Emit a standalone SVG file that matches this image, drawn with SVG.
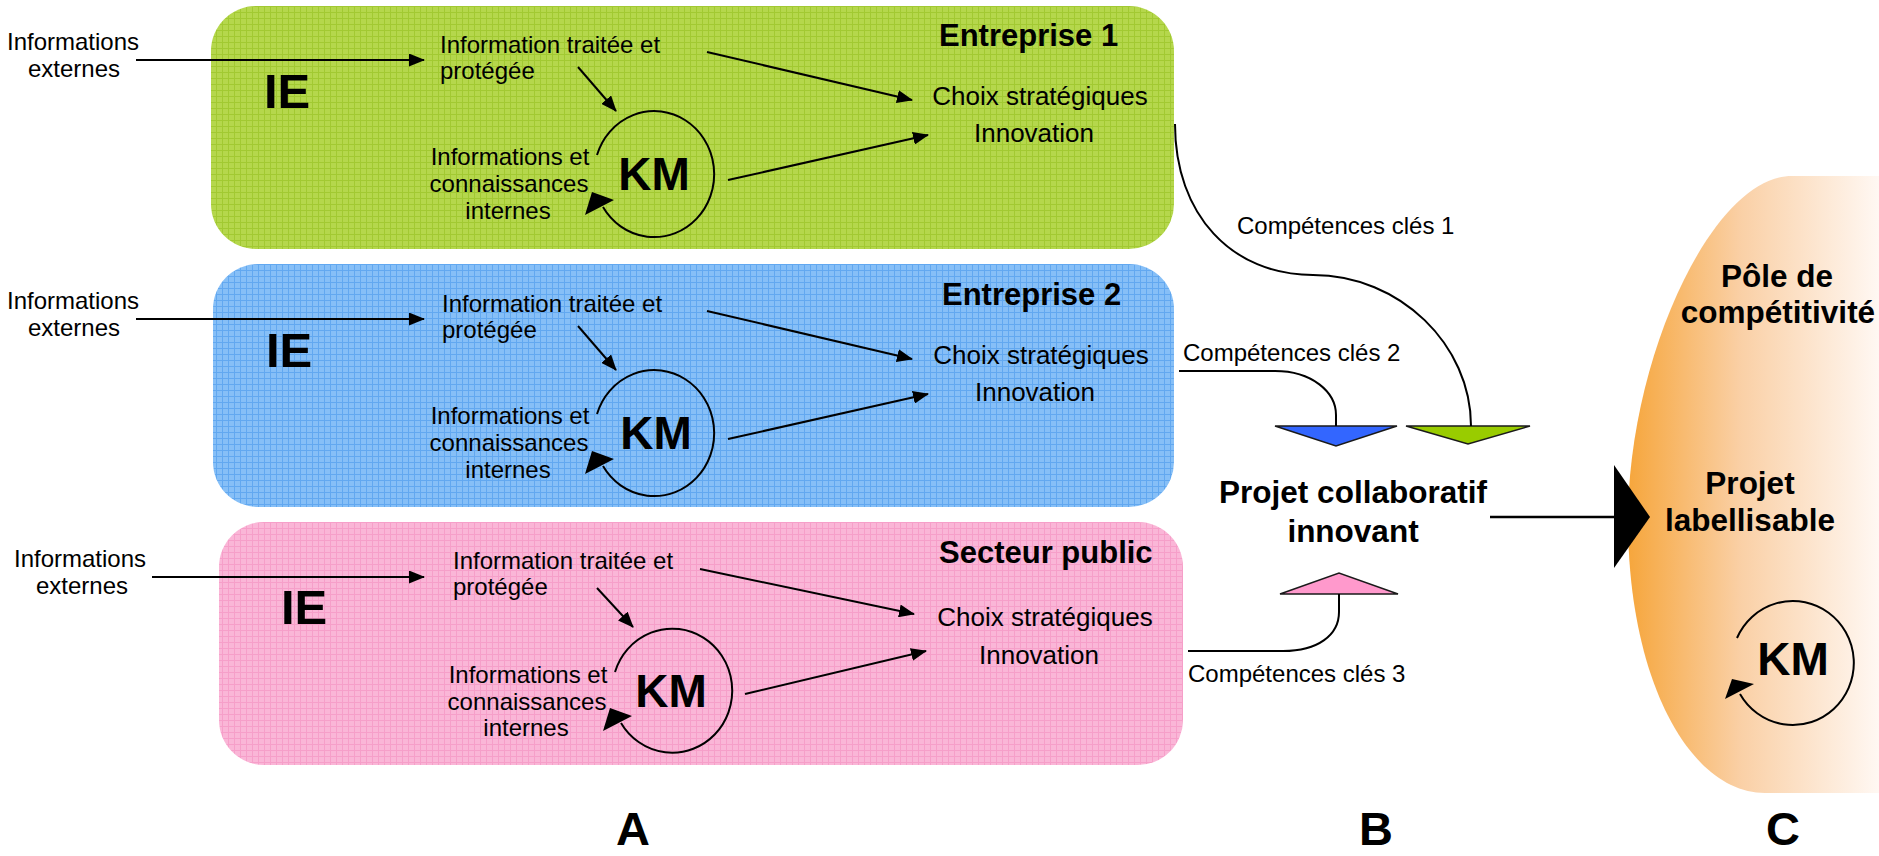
<svg xmlns="http://www.w3.org/2000/svg" width="1879" height="856" viewBox="0 0 1879 856">
<style>
text{font-family:"Liberation Sans",Arial,sans-serif;fill:#000}
.t{font-size:24px}
.mid{text-anchor:middle}
.cs{font-size:26px;text-anchor:middle}
.title{font-size:31px;font-weight:bold}
.ie{font-size:49px;font-weight:bold}
.km{font-size:46px;font-weight:bold;text-anchor:middle}
.big{font-size:31.5px;font-weight:bold;text-anchor:middle}
.letter{font-size:47px;font-weight:bold;text-anchor:middle}
.loop{fill:none;stroke:#000;stroke-width:2}
.tri{stroke:#1a1a1a;stroke-width:1.5}
</style>
<defs>
<pattern id="pGreen" width="6" height="6" patternUnits="userSpaceOnUse">
<rect width="6" height="6" fill="#B5D74C"/>
<path d="M0,0.5H6M0.5,0V6" stroke="#A2C932" stroke-width="1"/>
</pattern>
<pattern id="pBlue" width="6" height="6" patternUnits="userSpaceOnUse">
<rect width="6" height="6" fill="#86BFF7"/>
<path d="M0,0.5H6M0.5,0V6" stroke="#62A8F0" stroke-width="1"/>
</pattern>
<pattern id="pPink" width="6" height="6" patternUnits="userSpaceOnUse">
<rect width="6" height="6" fill="#FAB6D7"/>
<path d="M0,0.5H6M0.5,0V6" stroke="#F69FC9" stroke-width="1"/>
</pattern>
<linearGradient id="gOrange" x1="0" y1="0" x2="1" y2="0">
<stop offset="0" stop-color="#F6A63C"/>
<stop offset="0.45" stop-color="#FAD0A6"/>
<stop offset="1" stop-color="#FFF8F3"/>
</linearGradient>
<marker id="ah" markerWidth="16" markerHeight="13" refX="15" refY="6.5" orient="auto" markerUnits="userSpaceOnUse">
<path d="M0,0 L16,6.5 L0,13 z" fill="#000"/>
</marker>
</defs>

<g id="pole">
<path d="M1879,176 L1792,176 C1712,176 1628,360 1628,520 C1628,680 1690,793 1765,793 L1879,793 Z" fill="url(#gOrange)"/>
<text class="big" x="1777" y="287">Pôle de</text>
<text class="big" x="1778" y="323">compétitivité</text>
<text class="big" x="1750" y="494">Projet</text>
<text class="big" x="1750" y="531">labellisable</text>
<text class="km" x="1793" y="675">KM</text>
<path class="loop" d="M1737,638 A61,62 0 1,1 1740,694"/>
<polygon points="1725,699 1732,679 1754,684" fill="#000"/>
</g>

<g id="entreprise1">
<rect x="211" y="6" width="963" height="243" rx="45" fill="url(#pGreen)"/>
<text class="title" x="939" y="46">Entreprise 1</text>
<text class="ie" x="264" y="108">IE</text>
<text class="t" x="440" y="53">Information traitée et</text>
<text class="t" x="440" y="79">protégée</text>
<text class="t mid" x="510" y="165">Informations et</text>
<text class="t mid" x="509" y="192">connaissances</text>
<text class="t mid" x="508" y="219">internes</text>
<text class="km" x="654" y="190">KM</text>
<path class="loop" d="M597,155 A60,63 0 1,1 603,207"/>
<polygon points="585,215 592,192 614,200" fill="#000"/>
<text class="cs" x="1040" y="105">Choix stratégiques</text>
<text class="cs" x="1034" y="142">Innovation</text>
</g>

<g id="entreprise2">
<rect x="213" y="264" width="961" height="243" rx="45" fill="url(#pBlue)"/>
<text class="title" x="942" y="305">Entreprise 2</text>
<text class="ie" x="266" y="367">IE</text>
<text class="t" x="442" y="312">Information traitée et</text>
<text class="t" x="442" y="338">protégée</text>
<text class="t mid" x="510" y="424">Informations et</text>
<text class="t mid" x="509" y="451">connaissances</text>
<text class="t mid" x="508" y="478">internes</text>
<text class="km" x="656" y="449">KM</text>
<path class="loop" d="M597,414 A60,63 0 1,1 603,466"/>
<polygon points="585,474 592,451 614,459" fill="#000"/>
<text class="cs" x="1041" y="364">Choix stratégiques</text>
<text class="cs" x="1035" y="401">Innovation</text>
</g>

<g id="secteur-public">
<rect x="219" y="522" width="964" height="243" rx="45" fill="url(#pPink)"/>
<text class="title" x="939" y="563">Secteur public</text>
<text class="ie" x="281" y="624">IE</text>
<text class="t" x="453" y="569">Information traitée et</text>
<text class="t" x="453" y="595">protégée</text>
<text class="t mid" x="528" y="683">Informations et</text>
<text class="t mid" x="527" y="710">connaissances</text>
<text class="t mid" x="526" y="736">internes</text>
<text class="km" x="671" y="707">KM</text>
<path class="loop" d="M615,672 A60,62 0 1,1 621,723"/>
<polygon points="603,731 610,708 632,716" fill="#000"/>
<text class="cs" x="1045" y="626">Choix stratégiques</text>
<text class="cs" x="1039" y="664">Innovation</text>
</g>

<g id="ext1"><text class="t mid" x="73" y="50">Informations</text><text class="t mid" x="74" y="77">externes</text></g>
<g id="ext2"><text class="t mid" x="73" y="309">Informations</text><text class="t mid" x="74" y="336">externes</text></g>
<g id="ext3"><text class="t mid" x="80" y="567">Informations</text><text class="t mid" x="82" y="594">externes</text></g>

<g id="projet-collaboratif">
<text class="big" x="1353" y="503">Projet collaboratif</text>
<text class="big" x="1353" y="542">innovant</text>
<polygon class="tri" points="1275,426 1397,426 1336,446" fill="#3366FF"/>
<polygon class="tri" points="1406,426 1530,426 1468,444" fill="#99CC00"/>
<polygon class="tri" points="1280,594 1398,594 1339,573" fill="#FF99CC"/>
</g>

<g id="labels">
<text class="t" x="1237" y="234">Compétences clés 1</text>
<text class="t" x="1183" y="361">Compétences clés 2</text>
<text class="t" x="1188" y="682">Compétences clés 3</text>
<text class="letter" x="633" y="845">A</text>
<text class="letter" x="1376" y="845">B</text>
<text class="letter" x="1783" y="845">C</text>
</g>

<g id="connectors" fill="none" stroke="#000" stroke-width="2">
<line x1="136" y1="60" x2="424" y2="60" marker-end="url(#ah)"/>
<line x1="578" y1="67" x2="616" y2="111" marker-end="url(#ah)"/>
<line x1="707" y1="52" x2="912" y2="100" marker-end="url(#ah)"/>
<line x1="728" y1="180" x2="928" y2="135" marker-end="url(#ah)"/>

<line x1="136" y1="319" x2="424" y2="319" marker-end="url(#ah)"/>
<line x1="578" y1="326" x2="616" y2="370" marker-end="url(#ah)"/>
<line x1="707" y1="311" x2="912" y2="359" marker-end="url(#ah)"/>
<line x1="728" y1="439" x2="928" y2="394" marker-end="url(#ah)"/>

<line x1="152" y1="577" x2="424" y2="577" marker-end="url(#ah)"/>
<line x1="597" y1="588" x2="633" y2="627" marker-end="url(#ah)"/>
<line x1="700" y1="569" x2="914" y2="614" marker-end="url(#ah)"/>
<line x1="745" y1="694" x2="926" y2="651" marker-end="url(#ah)"/>

<path d="M1175,124 C1175,215 1232,275 1313,275 C1400,275 1471,345 1471,426"/>
<path d="M1179,371 H1275 C1312,371 1336,392 1336,415 V426"/>
<path d="M1188,651 H1283 C1318,651 1339,635 1339,612 V594"/>
<line x1="1490" y1="517" x2="1616" y2="517" stroke-width="2.5"/>
<polygon points="1614,465 1650,517 1614,568" fill="#000" stroke="none"/>
</g>
</svg>
